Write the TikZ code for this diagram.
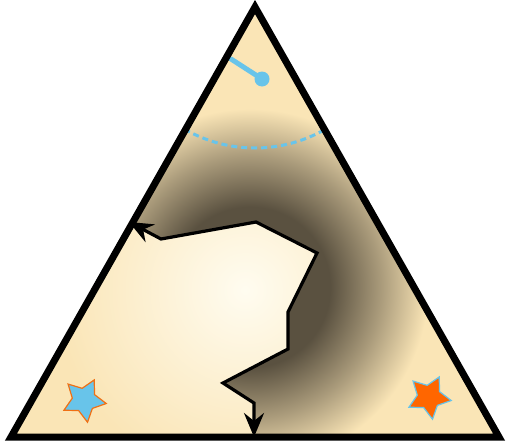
\documentclass[tikz,border=0pt]{standalone}
\usepackage{xcolor}
\usepackage{tikz}
\usetikzlibrary{arrows.meta,shapes.geometric}

\definecolor{sand}{RGB}{250,229,182}
\definecolor{umber}{RGB}{90,81,64}
\definecolor{cream}{RGB}{255,252,240}
\definecolor{sky}{RGB}{104,196,234}
\definecolor{tangerine}{RGB}{255,102,0}
\definecolor{rust}{RGB}{240,112,20}

\pgfdeclareradialshading{shadowring}{\pgfpointorigin}{color(0bp)=(umber); color(11bp)=(umber); color(18bp)=(umber!50!sand); color(24.5bp)=(sand); color(50bp)=(sand)}
\pgfdeclareradialshading{glow}{\pgfpointorigin}{color(0bp)=(cream); color(25bp)=(sand); color(50bp)=(sand)}

\begin{document}
\begin{tikzpicture}[x=1pt, y=-1pt,
  border/.style={line width=7pt, line join=miter},
  route/.style={{Stealth[length=24pt,width=20pt,inset=8pt]}-{Stealth[length=24pt,width=20pt,inset=8pt]}, line width=3.2pt},
  starmark/.style={star, star points=5, star point ratio=1.9, minimum size=45pt, inner sep=0pt, rotate=-27, line width=1.2pt}]

  \useasboundingbox (0,0) rectangle (510,447);

  % corners of the triangle
  \coordinate (apex) at (255,7);
  \coordinate (left) at (11,437);
  \coordinate (right) at (499,437);

  % route through the triangle
  \coordinate (entry) at (129,222);
  \coordinate (r1) at (161,239);
  \coordinate (r2) at (256,222);
  \coordinate (r3) at (317,253);
  \coordinate (r4) at (288,312);
  \coordinate (r5) at (288,349);
  \coordinate (r6) at (223,383);
  \coordinate (r7) at (254,403);
  \coordinate (exit) at (254,437);

  % ground colour and shadow
  \fill[sand] (apex) -- (right) -- (left) -- cycle;
  \begin{scope}
    \clip (apex) -- (right) -- (left) -- cycle;
    \shade[shading=shadowring] (250,287) circle (182pt);
  \end{scope}

  % lit region
  \begin{scope}
    \clip (entry) -- (r1) -- (r2) -- (r3) -- (r4) -- (r5) -- (r6) -- (r7) -- (exit) -- (left) -- cycle;
    \shade[shading=glow] (245,290) circle (190pt);
  \end{scope}

  % dashed arc below the apex
  \draw[sky, line width=3pt, dash pattern=on 6pt off 4pt] (apex) ++(240:141pt) arc (240:300:141pt);

  % pin
  \coordinate (pintail) at (231,59);
  \node[circle, fill=sky, minimum size=15pt, inner sep=0pt] (pin) at (262,79) {};
  \draw[sky, line width=5pt, line cap=round] (pintail) -- (pin.center);

  % stars
  \node[starmark, fill=sky, draw=rust] (bluestar) at (84,400) {};
  \node[starmark, fill=tangerine, draw=sky] (orangestar) at (429,397) {};

  % route
  \draw[route] (entry) -- (r1) -- (r2) -- (r3) -- (r4) -- (r5) -- (r6) -- (r7) -- (exit);

  % outline
  \draw[border] (apex) -- (right) -- (left) -- cycle;

\end{tikzpicture}
\end{document}
